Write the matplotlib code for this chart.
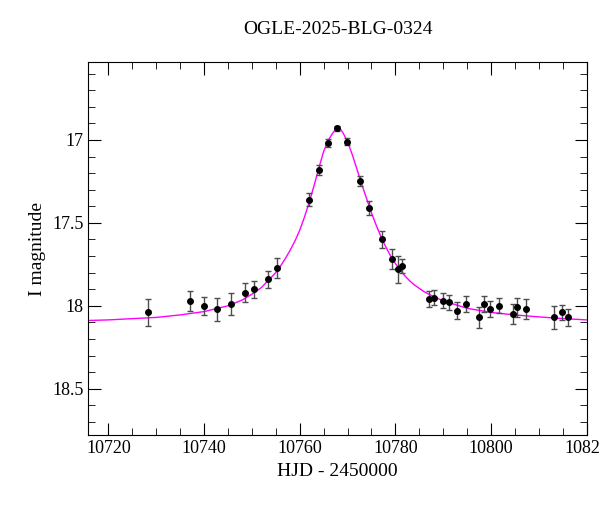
import matplotlib
matplotlib.use("Agg")
import matplotlib.pyplot as plt
from matplotlib.ticker import MultipleLocator

TITLE = "OGLE-2025-BLG-0324"

# observed photometry (HJD - 2450000, I mag, error)
hjd = [10728.3, 10737.0, 10739.9, 10742.8, 10745.6, 10748.5, 10750.5, 10753.3,
       10755.2, 10762.0, 10764.0, 10765.9, 10767.8, 10769.8, 10772.5, 10774.5,
       10777.3, 10779.3, 10780.5, 10781.3, 10787.0, 10788.1, 10789.9, 10791.1,
       10792.9, 10794.7, 10797.5, 10798.6, 10799.7, 10801.6, 10804.5, 10805.4,
       10807.3, 10813.1, 10814.9, 10816.1]
mag = [18.04, 17.97, 18.00, 18.02, 17.99, 17.92, 17.90, 17.84,
       17.77, 17.36, 17.18, 17.02, 16.93, 17.01, 17.25, 17.41,
       17.60, 17.72, 17.78, 17.76, 17.96, 17.95, 17.97, 17.98,
       18.03, 17.99, 18.07, 17.99, 18.02, 18.00, 18.05, 18.01,
       18.02, 18.07, 18.04, 18.07]
err = [0.08, 0.06, 0.055, 0.07, 0.066, 0.056, 0.05, 0.05,
       0.06, 0.04, 0.03, 0.025, 0.015, 0.02, 0.03, 0.04,
       0.05, 0.06, 0.08, 0.045, 0.05, 0.045, 0.045, 0.045,
       0.05, 0.05, 0.065, 0.05, 0.05, 0.045, 0.06, 0.06,
       0.06, 0.07, 0.045, 0.05]

# model curve
model_t = [10714, 10720, 10730, 10735, 10740, 10745, 10748, 10750, 10752, 10754,
           10755, 10756, 10757, 10758, 10759, 10760, 10761, 10762, 10763, 10764,
           10765, 10766, 10767, 10767.5, 10768, 10768.5, 10769, 10770, 10771,
           10772, 10773, 10774, 10775, 10776, 10777, 10778, 10779, 10780, 10781,
           10782, 10783, 10784, 10786, 10788, 10790, 10795, 10800, 10805, 10810,
           10815, 10820]
model_m = [18.09, 18.085, 18.07, 18.055, 18.035, 18.0, 17.965, 17.93, 17.89, 17.83,
           17.80, 17.76, 17.715, 17.665, 17.61, 17.545, 17.465, 17.375, 17.275, 17.17,
           17.07, 17.0, 16.955, 16.937, 16.93, 16.935, 16.955, 17.01, 17.09,
           17.18, 17.27, 17.355, 17.44, 17.515, 17.585, 17.645, 17.70, 17.745, 17.785,
           17.82, 17.85, 17.875, 17.915, 17.945, 17.97, 18.015, 18.04, 18.055, 18.067,
           18.077, 18.085]

plt.rcParams["font.family"] = "Liberation Serif"
fig = plt.figure(figsize=(6, 5.12), dpi=100)
ax = fig.add_axes([0.147, 0.150, 0.831, 0.729])

ax.plot(model_t, model_m, color="magenta", lw=1.0, zorder=1)
ax.errorbar(hjd, mag, yerr=err, fmt="o", ms=4, color="black",
            ecolor="0.3", elinewidth=1, capsize=2.5, capthick=1, zorder=2)

ax.set_xlim(10715.8, 10820)
ax.set_ylim(18.78, 16.53)
ax.xaxis.set_major_locator(MultipleLocator(20))
ax.xaxis.set_minor_locator(MultipleLocator(5))
ax.yaxis.set_major_locator(MultipleLocator(0.5))
ax.yaxis.set_minor_locator(MultipleLocator(0.1))
ax.tick_params(which="both", direction="in", top=True, right=True, labelsize=13)
ax.tick_params(which="major", length=9)
ax.tick_params(which="minor", length=5)
ax.set_yticks([17, 17.5, 18, 18.5])
ax.set_yticklabels(["17", "17.5", "18", "18.5"])

ax.set_xlabel("HJD - 2450000", fontsize=14)
ax.set_ylabel("I magnitude", fontsize=14)
ax.set_title(TITLE, fontsize=14, pad=20)

fig.savefig("out.png", dpi=100)
